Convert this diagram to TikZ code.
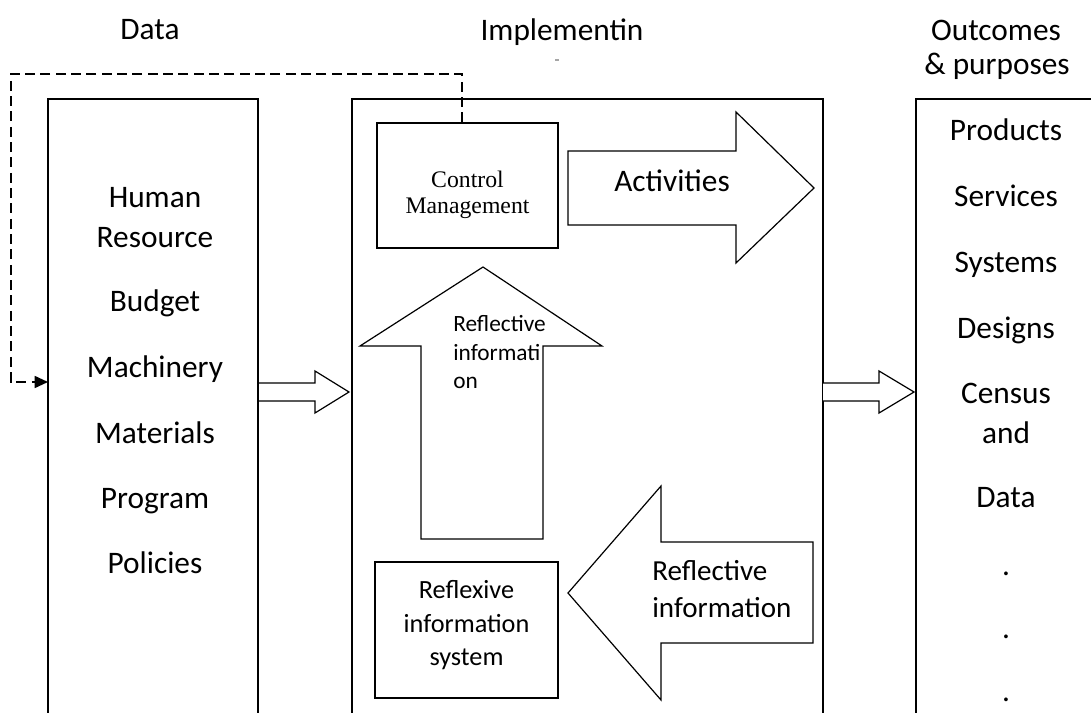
\documentclass[tikz,border=0pt]{standalone}
\usepackage{fontspec}
\setmainfont{Carlito}
\newfontfamily\timesf{Liberation Serif}
\usetikzlibrary{arrows.meta}
\begin{document}
\begin{tikzpicture}[x=0.75pt,y=-0.75pt,line join=miter,
  frame/.style={draw,line width=1.15pt},
  fat/.style={draw,line width=0.9pt,fill=white},
  big/.style={font=\fontsize{23.5}{28.5}\selectfont,inner sep=0pt,anchor=base},
  upt/.style={font=\fontsize{17.5}{21}\selectfont,inner sep=0pt,anchor=base west},
  lat/.style={font=\fontsize{21.8}{27}\selectfont,inner sep=0pt,anchor=base west},
  cmt/.style={font=\timesf\fontsize{17.8}{20}\selectfont,inner sep=0pt,anchor=base},
  rxt/.style={font=\fontsize{19.7}{24}\selectfont,inner sep=0pt,anchor=base},
  boxnode/.style={draw,line width=1.15pt,inner sep=0pt},
  fb/.style={dash pattern=on 7.5pt off 4pt,line width=1.3pt}]
\useasboundingbox (0,0) rectangle (1091,713);

% headers
\node[big] (hData) at (150,40) {Data};
\node[big] (hImpl) at (562,41) {Implementin};
\draw[gray!70,line width=0.8pt] (555,60) -- (559,60);
\node[big] (hOut1) at (996,41) {Outcomes};
\node[big] (hOut2) at (997,75) {\& purposes};

% open frames
\draw[frame] (48,713) -- (48,99) -- (258,99) -- (258,713);
\draw[frame] (352,713) -- (352,99) -- (823,99) -- (823,713);
\draw[frame] (916,713) -- (916,99) -- (1095,99);
\coordinate (inL) at (48,382);

% left list
\node[big] (l1) at (155,207) {Human};
\node[big] (l2) at (155,247) {Resource};
\node[big] (l3) at (155,311) {Budget};
\node[big] (l4) at (155,377) {Machinery};
\node[big] (l5) at (155,443) {Materials};
\node[big] (l6) at (155,508) {Program};
\node[big] (l7) at (155,573) {Policies};

% right list
\node[big] (r1) at (1006,141) {Products};
\node[big] (r2) at (1006,206) {Services};
\node[big] (r3) at (1006,272) {Systems};
\node[big] (r4) at (1006,338) {Designs};
\node[big] (r5) at (1006,403) {Census};
\node[big] (r6) at (1006,443) {and};
\node[big] (r7) at (1006,507) {Data};
\node[big] (r8) at (1006,575) {.};
\node[big] (r9) at (1006,638) {.};
\node[big] (r10) at (1006,701) {.};

% control management box
\node[boxnode,minimum width=0.75pt*181,minimum height=0.75pt*125] (cm) at (467.5,185.5) {};
\node[cmt] (cm1) at (467.5,187) {Control};
\node[cmt] (cm2) at (467.5,213) {Management};

% activities arrow
\draw[fat] (568,151) -- (736,151) -- (736,112) -- (814,188) -- (736,263) -- (736,225) -- (568,225) -- cycle;
\node[big] (act) at (672,191) {Activities};

% up arrow
\draw[fat] (421,539) -- (421,346) -- (360,346) -- (483,267) -- (602,346) -- (543,346) -- (543,539) -- cycle;
\node[upt] (u1) at (453,331) {Reflective};
\node[upt] (u2) at (453,360) {informati};
\node[upt] (u3) at (453,388) {on};

% left-pointing arrow
\draw[fat] (813,542) -- (661,542) -- (661,486) -- (568,593) -- (661,700) -- (661,643) -- (813,643) -- cycle;
\node[lat] (la1) at (652,580) {Reflective};
\node[lat] (la2) at (652,617) {information};

% reflexive information system box
\node[boxnode,minimum width=0.75pt*183,minimum height=0.75pt*136] (rx) at (466.5,630) {};
\node[rxt] (rx1) at (466.5,598) {Reflexive};
\node[rxt] (rx2) at (466.5,632) {information};
\node[rxt] (rx3) at (466.5,665) {system};

% small connecting arrows
\draw[fat] (259,383) -- (315,383) -- (315,371) -- (349,392) -- (315,413) -- (315,401) -- (259,401);
\draw[fat] (823,383) -- (879,383) -- (879,371) -- (914,392) -- (879,413) -- (879,401) -- (823,401);

% dashed feedback
\coordinate (dtop) at (462,74);
\draw[fb,-{Triangle[length=10pt,width=9pt]}] (cm.north -| dtop) -- (dtop) -- (11,74) -- (11,382) -- (inL);
\end{tikzpicture}
\end{document}
